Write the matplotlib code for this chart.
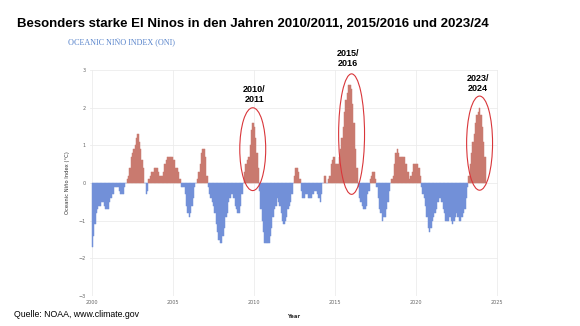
import numpy as np
import matplotlib
matplotlib.use("Agg")
import matplotlib.pyplot as plt
from matplotlib.patches import Ellipse

# ONI monthly values (3-month running mean), Jan 2000 .. Apr 2024
years = list(range(2000, 2025))
oni = [
    [-1.7, -1.4, -1.1, -0.8, -0.7, -0.6, -0.6, -0.5, -0.5, -0.6, -0.7, -0.7],  # 2000
    [-0.7, -0.5, -0.4, -0.3, -0.3, -0.1, -0.1, -0.1, -0.2, -0.3, -0.3, -0.3],  # 2001
    [-0.1, 0.0, 0.1, 0.2, 0.4, 0.7, 0.8, 0.9, 1.0, 1.2, 1.3, 1.1],            # 2002
    [0.9, 0.6, 0.4, 0.0, -0.3, -0.2, 0.1, 0.2, 0.3, 0.3, 0.4, 0.4],           # 2003
    [0.4, 0.3, 0.2, 0.2, 0.2, 0.3, 0.5, 0.6, 0.7, 0.7, 0.7, 0.7],             # 2004
    [0.6, 0.6, 0.4, 0.4, 0.3, 0.1, -0.1, -0.1, -0.1, -0.3, -0.6, -0.8],       # 2005
    [-0.9, -0.8, -0.6, -0.4, -0.1, 0.0, 0.1, 0.3, 0.5, 0.8, 0.9, 0.9],        # 2006
    [0.7, 0.2, -0.1, -0.3, -0.4, -0.5, -0.6, -0.8, -1.1, -1.3, -1.5, -1.6],   # 2007
    [-1.6, -1.4, -1.2, -0.9, -0.8, -0.5, -0.4, -0.3, -0.3, -0.4, -0.6, -0.7], # 2008
    [-0.8, -0.8, -0.6, -0.3, 0.0, 0.3, 0.5, 0.6, 0.7, 1.0, 1.4, 1.6],         # 2009
    [1.5, 1.2, 0.8, 0.4, -0.2, -0.7, -1.0, -1.3, -1.6, -1.6, -1.6, -1.6],     # 2010
    [-1.4, -1.2, -0.9, -0.7, -0.6, -0.4, -0.5, -0.6, -0.8, -1.0, -1.1, -1.0], # 2011
    [-0.9, -0.7, -0.6, -0.5, -0.3, 0.0, 0.2, 0.4, 0.4, 0.3, 0.1, -0.2],       # 2012
    [-0.4, -0.4, -0.3, -0.3, -0.4, -0.4, -0.4, -0.3, -0.3, -0.2, -0.2, -0.3], # 2013
    [-0.4, -0.5, -0.3, 0.0, 0.2, 0.2, 0.0, 0.1, 0.2, 0.5, 0.6, 0.7],          # 2014
    [0.5, 0.5, 0.5, 0.7, 0.9, 1.2, 1.5, 1.9, 2.2, 2.4, 2.6, 2.6],             # 2015
    [2.5, 2.1, 1.6, 0.9, 0.4, -0.1, -0.4, -0.5, -0.6, -0.7, -0.7, -0.6],      # 2016
    [-0.3, -0.2, 0.1, 0.2, 0.3, 0.3, 0.1, -0.1, -0.4, -0.7, -0.8, -1.0],      # 2017
    [-0.9, -0.9, -0.7, -0.5, -0.2, 0.0, 0.1, 0.2, 0.5, 0.8, 0.9, 0.8],        # 2018
    [0.7, 0.7, 0.7, 0.7, 0.5, 0.5, 0.3, 0.1, 0.2, 0.3, 0.5, 0.5],             # 2019
    [0.5, 0.5, 0.4, 0.2, -0.1, -0.3, -0.4, -0.6, -0.9, -1.2, -1.3, -1.2],     # 2020
    [-1.0, -0.9, -0.8, -0.7, -0.5, -0.4, -0.4, -0.5, -0.7, -0.8, -1.0, -1.0], # 2021
    [-1.0, -0.9, -1.0, -1.1, -1.0, -0.9, -0.8, -0.9, -1.0, -1.0, -0.9, -0.8], # 2022
    [-0.7, -0.4, -0.1, 0.2, 0.5, 0.8, 1.1, 1.3, 1.6, 1.8, 1.9, 2.0],          # 2023
    [1.8, 1.5, 1.1, 0.7],                                                     # 2024
]

# highlighted El Nino events
events = ["2010/\n2011", "2015/\n2016", "2023/\n2024"]

t = []
v = []
for y, row in zip(years, oni):
    for m, val in enumerate(row):
        t.append(y + m / 12)
        v.append(val)
t = np.array(t)
v = np.array(v)

red = "#c97a6f"
blue = "#7290d8"
colors = [red if x > 0 else blue for x in v]

fig = plt.figure(figsize=(5.8, 3.26), dpi=100)
ax = fig.add_axes([0.155, 0.092, 0.704, 0.693])

# edge in the same colour so that the thin monthly bars close up
ax.bar(t, v, width=1 / 12, align="edge", color=colors, edgecolor=colors, linewidth=0.35)

ax.set_xlim(1999.9, 2025.1)
ax.set_ylim(-3, 3)
ax.set_xticks([2000, 2005, 2010, 2015, 2020, 2025])
ax.set_yticks([-3, -2, -1, 0, 1, 2, 3])
ax.grid(True, color="#ececec", linewidth=0.6)
ax.set_axisbelow(True)
for s in ax.spines.values():
    s.set_visible(False)
ax.tick_params(length=0, labelsize=3.5, labelcolor="#666666", pad=3)
ax.set_xlabel("Year", fontsize=3.8, fontweight="bold", color="#333333", labelpad=6)
ax.set_ylabel("Oceanic Niño Index (°C)", fontsize=3.8, color="#333333", labelpad=6)

# event annotations
label_pos = [(2010.05, 2.35), (2015.85, 3.3), (2023.85, 2.65)]
ell = [((2009.95, 0.9), 1.6, 2.2), ((2016.05, 1.3), 1.6, 3.2), ((2023.95, 1.06), 1.6, 2.5)]
for lab, (lx, ly), (c, w, h) in zip(events, label_pos, ell):
    ax.text(lx, ly, lab, ha="center", va="center", fontsize=6.5,
            fontweight="bold", family="Liberation Sans", linespacing=1.1,
            clip_on=False)
    ax.add_patch(Ellipse(c, w, h, fill=False, edgecolor="#d9363a", linewidth=0.8))

fig.text(0.03, 0.925, "Besonders starke El Ninos in den Jahren 2010/2011, 2015/2016 und 2023/24",
         fontsize=9.5, fontweight="bold", family="Liberation Sans", va="center")
fig.text(0.118, 0.868, "OCEANIC NIÑO INDEX (ONI)", fontsize=5.9,
         family="Liberation Serif", color="#5b86cc", va="center")
fig.text(0.025, 0.035, "Quelle: NOAA, www.climate.gov", fontsize=6.3,
         family="Liberation Sans", va="center")

fig.savefig("out.png", dpi=100)
